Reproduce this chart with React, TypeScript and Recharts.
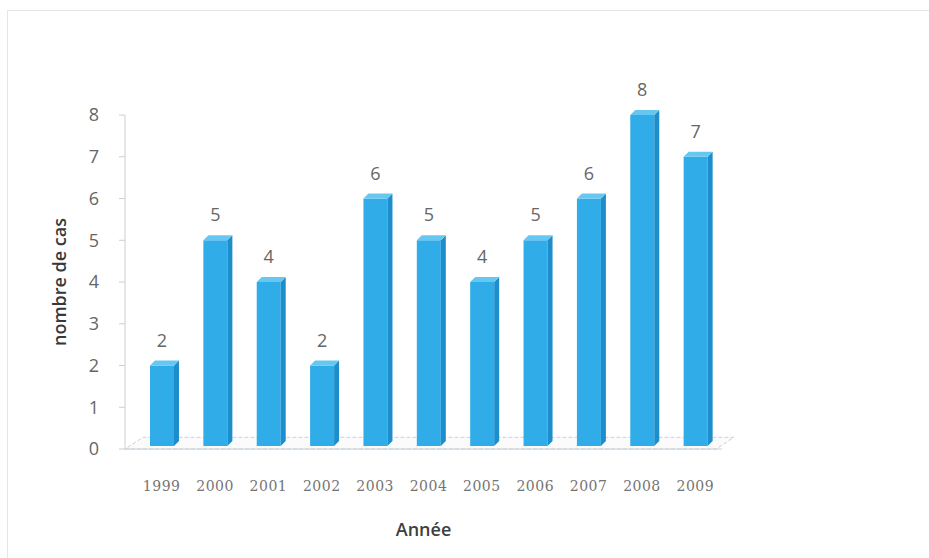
import { BarChart, Bar, XAxis, YAxis, LabelList, Label, ReferenceArea } from 'recharts'

const YEARS = ['1999', '2000', '2001', '2002', '2003', '2004', '2005', '2006', '2007', '2008', '2009']
const CASES = [2, 5, 4, 2, 6, 5, 4, 5, 6, 8, 7]
const Y_TICKS = [0, 1, 2, 3, 4, 5, 6, 7, 8]

const data = YEARS.map((year, i) => ({ year, cases: CASES[i] }))

const FRONT = '#30ade9'
const SIDE = '#1d8ecb'
const TOP = '#66c7f1'
const DEPTH = 5

// 3D-looking bar: front face + right side + top
function Bar3D(props: any) {
  const { x, y, width, height } = props
  if (height == null || height <= 0) return null
  const h = height - 3
  const d = DEPTH
  return (
    <g>
      <rect x={x} y={y} width={width} height={h} fill={FRONT} />
      <polygon
        points={`${x + width},${y} ${x + width + d},${y - d} ${x + width + d},${y + h - d} ${x + width},${y + h}`}
        fill={SIDE}
      />
      <polygon
        points={`${x},${y} ${x + d},${y - d} ${x + width + d},${y - d} ${x + width},${y}`}
        fill={TOP}
      />
    </g>
  )
}

// floor of the 3D plot
function Floor(props: any) {
  const { x, y, width, height } = props
  const left = x - 10
  const front = y + height
  const back = y
  const dx = 18
  return (
    <polygon
      points={`${left},${front} ${x + width - 6},${front} ${x + width + dx - 6},${back} ${left + dx},${back}`}
      fill="#fbfbfb"
      stroke="#c6d3dd"
      strokeWidth={1}
      strokeDasharray="4 2"
    />
  )
}

export default function App() {
  return (
    <div style={{ position: 'absolute', left: 0, top: 0, width: 929, height: 558, background: '#fff', fontFamily: 'Open Sans, sans-serif' }}>
      <div style={{ position: 'absolute', left: 7, top: 10, right: 0, bottom: 0, borderTop: '1px solid #e2e6ea', borderLeft: '1px solid #e2e6ea' }} />
      <BarChart
        width={929}
        height={558}
        data={data}
        margin={{ top: 115, right: 207, bottom: 0, left: 0 }}
        style={{ position: 'absolute', left: 0, top: 0 }}
      >
        <ReferenceArea
          x1="1999"
          x2="2009"
          y1={0}
          y2={0.28}
          shape={<Floor />}
          ifOverflow="visible"
        />
        <XAxis
          dataKey="year"
          height={109}
          padding={{ left: 10, right: 0 }}
          axisLine={{ stroke: '#c9d0d6' }}
          tickLine={false}
          tickSize={0}
          tickMargin={32}
          tick={{ fontSize: 14, fill: '#747474', fontFamily: 'DejaVu Serif, serif', letterSpacing: 0.5 }}
          interval={0}
        >
          <Label value="Année" position="insideBottom" offset={22} style={{ fontSize: 18, fontWeight: 600, fill: '#404040' }} />
        </XAxis>
        <YAxis
          width={125}
          domain={[0, 8]}
          ticks={Y_TICKS}
          interval={0}
          axisLine={{ stroke: '#c9d0d6' }}
          tickLine={{ stroke: '#c9d0d6' }}
          tickSize={6}
          tickMargin={20}
          tick={{ fontSize: 18, fill: '#666666' }}
        >
          <Label value="nombre de cas" angle={-90} position="center" dx={-3} style={{ fontSize: 18, fontWeight: 600, fill: '#383838', textAnchor: 'middle' }} />
        </YAxis>
        <Bar dataKey="cases" barSize={24} shape={<Bar3D />} isAnimationActive={false}>
          <LabelList dataKey="cases" position="top" offset={19} style={{ fontSize: 18, fill: '#666666' }} />
        </Bar>
      </BarChart>
    </div>
  )
}
